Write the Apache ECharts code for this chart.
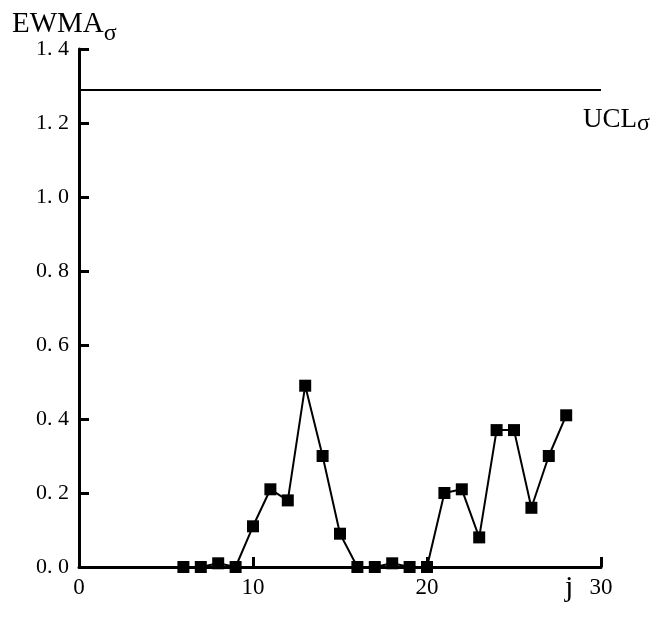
<!DOCTYPE html>
<html>
<head>
<meta charset="utf-8">
<script src="https://cdn.jsdelivr.net/npm/echarts@6/dist/echarts.min.js"></script>
<style>
html, body { margin: 0; padding: 0; background: #fff; }
#chart { width: 665px; height: 619px; }
</style>
</head>
<body>
<div id="chart"></div>
<script>
// 样本序号 j
var jValues = [6, 7, 8, 9, 10, 11, 12, 13, 14, 15, 16, 17, 18, 19, 20, 21, 22, 23, 24, 25, 26, 27, 28];
// EWMA_sigma 统计量
var ewmaValues = [0, 0, 0.01, 0, 0.11, 0.21, 0.18, 0.49, 0.30, 0.09, 0, 0, 0.01, 0, 0, 0.20, 0.21, 0.08, 0.37, 0.37, 0.16, 0.30, 0.41];
// 控制上限
var uclValue = 1.29;
var xTicks = [0, 10, 20, 30];
var yTicks = [0, 0.2, 0.4, 0.6, 0.8, 1.0, 1.2, 1.4];

var font = 'Liberation Serif';
var points = [];
for (var i = 0; i < jValues.length; i++) {
    points.push([jValues[i], ewmaValues[i]]);
}

var myChart = echarts.init(document.getElementById('chart'));
var option = {
    backgroundColor: '#fff',
    animation: false,
    // 纵轴名称 EWMA_sigma
    title: {
        text: 'EWMA{s|σ}',
        left: 7,
        top: -3,
        textStyle: {
            fontFamily: font, fontSize: 29, fontWeight: 'normal', color: '#000',
            rich: { s: { fontFamily: font, fontSize: 24, color: '#000', padding: [20, 0, 0, 0] } }
        }
    },
    grid: { left: 79, top: 49, right: 64, bottom: 52 },
    xAxis: {
        type: 'value',
        min: 0, max: 30, interval: 10,
        name: 'j',
        nameLocation: 'end',
        nameGap: -36,
        nameTextStyle: { fontFamily: font, fontSize: 30, color: '#000', verticalAlign: 'top', padding: [6, 0, 0, 0] },
        axisLine: { lineStyle: { color: '#000', width: 3 } },
        axisTick: { inside: true, length: 10, lineStyle: { color: '#000', width: 3 } },
        axisLabel: { fontFamily: font, fontSize: 23, color: '#000', margin: 9 },
        splitLine: { show: false }
    },
    yAxis: {
        type: 'value',
        min: 0, max: 1.4, interval: 0.2,
        axisLine: { lineStyle: { color: '#000', width: 3 } },
        axisTick: { inside: true, length: 10, lineStyle: { color: '#000', width: 3 } },
        axisLabel: {
            fontFamily: font, fontSize: 22, color: '#000', margin: 10,
            formatter: function (v) { return v.toFixed(1).replace('.', '. '); }
        },
        splitLine: { show: false }
    },
    series: [{
        type: 'line',
        data: points,
        symbol: 'rect',
        symbolSize: 12,
        itemStyle: { color: '#000' },
        lineStyle: { color: '#000', width: 2 },
        markLine: {
            silent: true,
            symbol: ['none', 'none'],
            lineStyle: { color: '#000', width: 2, type: 'solid' },
            label: {
                position: 'end',
                distance: 0,
                offset: [-18, 30],
                formatter: 'UCL{s|σ}',
                fontFamily: font, fontSize: 27, color: '#000',
                rich: { s: { fontFamily: font, fontSize: 24, color: '#000', padding: [8, 0, 0, 0] } }
            },
            data: [{ yAxis: uclValue }]
        }
    }]
};
myChart.setOption(option);
</script>
</body>
</html>
